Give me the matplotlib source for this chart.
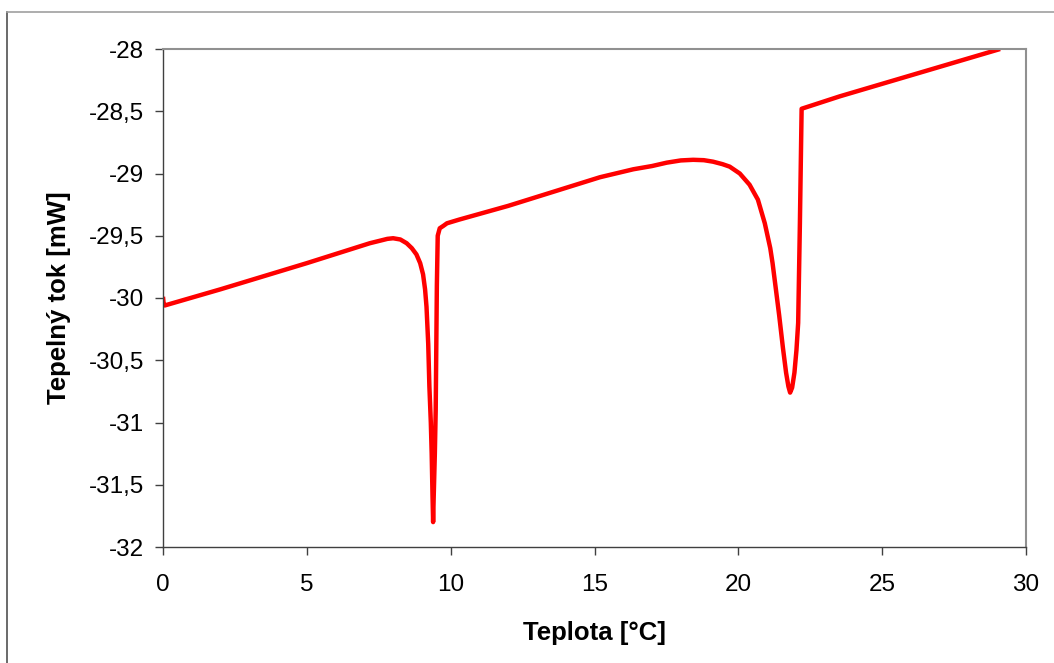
import matplotlib
matplotlib.use("Agg")
import matplotlib.pyplot as plt
from matplotlib.lines import Line2D
from matplotlib.ticker import FuncFormatter

plt.rcParams['font.family'] = ['Liberation Sans', 'DejaVu Sans']

# Data (temperature [°C], heat flow [mW])
temperature = [0.0, 0.02, 0.06, 2.0, 5.0, 7.19, 7.54, 7.8, 8.0, 8.25, 8.47, 8.65, 8.81, 8.94, 9.04,
               9.11, 9.16, 9.22, 9.26, 9.31, 9.34, 9.37, 9.39, 9.41, 9.45, 9.48, 9.50, 9.52, 9.55,
               9.62, 9.75, 9.87, 10.3, 12.0, 15.19, 16.35, 17.0, 17.51, 18.0, 18.43, 18.8, 19.12,
               19.45, 19.70, 20.05, 20.39, 20.68, 20.92, 21.11, 21.19, 21.30, 21.42, 21.55, 21.66,
               21.74, 21.80, 21.87, 21.95, 22.02, 22.08, 22.14, 22.20, 23.53, 29.1]
heat_flow = [-29.99, -30.04, -30.06, -29.93, -29.72, -29.56, -29.54, -29.525, -29.52, -29.53, -29.56,
             -29.60, -29.65, -29.72, -29.81, -29.93, -30.07, -30.37, -30.71, -31.0, -31.25, -31.6,
             -31.80, -31.6, -31.25, -30.9, -30.4, -29.9, -29.5, -29.44, -29.42, -29.40, -29.37,
             -29.26, -29.03, -28.966, -28.94, -28.913, -28.895, -28.89, -28.893, -28.905, -28.925,
             -28.945, -29.0, -29.09, -29.21, -29.40, -29.60, -29.72, -29.92, -30.14, -30.40, -30.60,
             -30.71, -30.76, -30.72, -30.60, -30.42, -30.20, -29.40, -28.48, -28.38, -28.0]

x_ticks = [0, 5, 10, 15, 20, 25, 30]
y_ticks = [-32, -31.5, -31, -30.5, -30, -29.5, -29, -28.5, -28]

W, H = 1054, 663
fig = plt.figure(figsize=(W / 100, H / 100), dpi=100)
ax = fig.add_axes([163 / W, 1 - 547 / H, (1026 - 163) / W, (547 - 49) / H])

ax.plot(temperature, heat_flow, color='#ff0000', lw=3.2, solid_joinstyle='round',
        solid_capstyle='butt', clip_on=True)

ax.set_xlim(0, 30)
ax.set_ylim(-32, -28)
ax.set_xticks(x_ticks)
ax.set_yticks(y_ticks)


def comma(v, pos):
    return ('%g' % v).replace('.', ',')


ax.yaxis.set_major_formatter(FuncFormatter(comma))
ax.xaxis.set_major_formatter(FuncFormatter(comma))
ax.tick_params(axis='both', direction='out', length=5.5, width=1, colors='#404040',
               labelcolor='black', labelsize=17.5)
ax.tick_params(axis='y', pad=8)
ax.tick_params(axis='x', pad=14)

for side in ['left', 'bottom']:
    ax.spines[side].set_color('#404040')
    ax.spines[side].set_linewidth(1.0)
for side in ['top', 'right']:
    ax.spines[side].set_color('#909090')
    ax.spines[side].set_linewidth(1.5)

ax.set_xlabel('Teplota [°C]', fontsize=18.5, fontweight='bold', labelpad=18)
ax.set_ylabel('Tepelný tok [mW]', fontsize=18.5, fontweight='bold', labelpad=13)

# Outer chart-area border (left and top edges visible)
fig.add_artist(Line2D([7 / W, 7 / W], [0, 1 - 12 / H], transform=fig.transFigure,
                      color='#505050', lw=1.2))
fig.add_artist(Line2D([7 / W, 1], [1 - 12 / H, 1 - 12 / H], transform=fig.transFigure,
                      color='#a0a0a0', lw=1.2))

fig.savefig('out.png', dpi=100)
